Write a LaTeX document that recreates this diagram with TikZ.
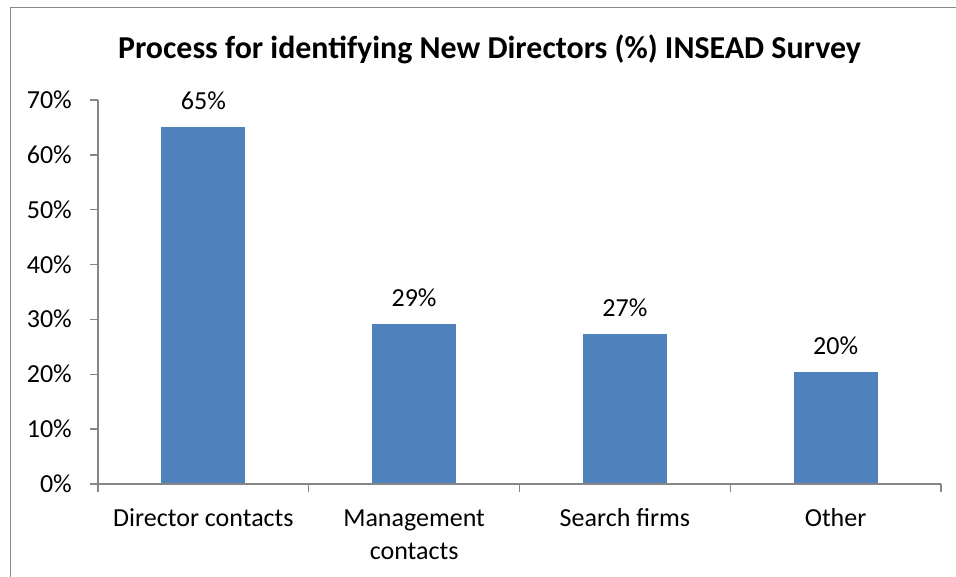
\documentclass[tikz,border=0pt]{standalone}
\usepackage{fontspec}
\setmainfont{Carlito}
\definecolor{barblue}{HTML}{4F81BD}
\definecolor{axisgray}{HTML}{868686}
\definecolor{framegray}{HTML}{898989}
\begin{document}
\begin{tikzpicture}[x=1pt,y=-1pt,
  lbl/.style={font=\fontsize{26}{33}\selectfont, inner sep=0pt, text=black},
  ttl/.style={font=\fontsize{31.9}{38}\selectfont\bfseries, inner sep=0pt, text=black},
  bar/.style={fill=barblue, draw=none},
  axis/.style={draw=axisgray, line width=1.3pt},
  frame/.style={draw=framegray, line width=1pt}]
\useasboundingbox (0,0) rectangle (956,577);
\fill[white] (0,0) rectangle (956,577);
% frame
\draw[frame] (10,577) -- (10,7.5) -- (956,7.5);
% title
\node[ttl, anchor=base] (title) at (489.5,58.3) {Process for identifying New Directors (\%) INSEAD Survey};
% bars
\fill[bar] (161.4,484) rectangle (245.4,127.4);
\fill[bar] (372.1,484) rectangle (456.1,324.4);
\fill[bar] (582.9,484) rectangle (666.9,334.2);
\fill[bar] (793.6,484) rectangle (877.6,372.1);
% axes
\draw[axis] (98,100) -- (98,492);
\draw[axis] (98,484) -- (941,484);
\foreach \i in {0,...,7} {
  \draw[axis] (90,{484-54.857*\i}) -- (98,{484-54.857*\i});
}
\foreach \x in {98,308.75,519.5,730.25,941} {
  \draw[axis] (\x,484) -- (\x,492);
}
% tick labels
\node[lbl, anchor=base east] (t0) at (72,492.5) {0\%};
\node[lbl, anchor=base east] (t1) at (72,437.6) {10\%};
\node[lbl, anchor=base east] (t2) at (72,382.8) {20\%};
\node[lbl, anchor=base east] (t3) at (72,327.9) {30\%};
\node[lbl, anchor=base east] (t4) at (72,273.1) {40\%};
\node[lbl, anchor=base east] (t5) at (72,218.2) {50\%};
\node[lbl, anchor=base east] (t6) at (72,163.4) {60\%};
\node[lbl, anchor=base east] (t7) at (72,108.5) {70\%};
% value labels
\node[lbl, anchor=base] (v1) at (203.4,109.4) {65\%};
\node[lbl, anchor=base] (v2) at (414.1,306.4) {29\%};
\node[lbl, anchor=base] (v3) at (624.9,316.2) {27\%};
\node[lbl, anchor=base] (v4) at (835.6,354.1) {20\%};
% category labels
\node[lbl, anchor=base] (c1) at (203.4,526) {Director contacts};
\node[lbl, anchor=base, align=center] (c2) at (414.1,559) {Management\\contacts};
\node[lbl, anchor=base] (c3) at (624.9,526) {Search firms};
\node[lbl, anchor=base] (c4) at (835.6,526) {Other};
\end{tikzpicture}
\end{document}
